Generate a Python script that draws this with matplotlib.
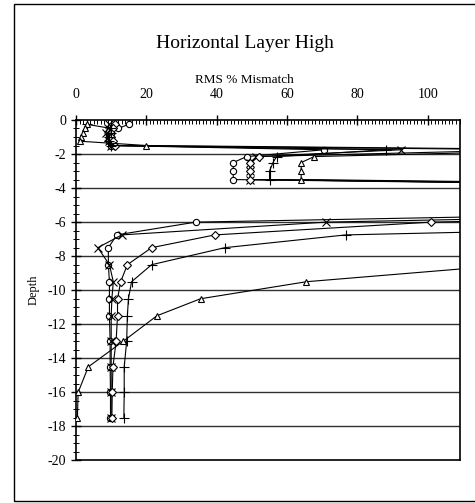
import matplotlib
matplotlib.use("Agg")
import matplotlib.pyplot as plt
from matplotlib.patches import Rectangle
from matplotlib.ticker import MultipleLocator

plt.rcParams['font.family'] = ['Liberation Serif', 'DejaVu Serif']
plt.rcParams['axes.unicode_minus'] = False

# depth levels shared by every series
depth = [-0.25, -0.5, -0.75, -1.0, -1.25, -1.5, -1.75, -2.15, -2.5, -3.0, -3.5, -4.5,
         -6.0, -6.75, -7.5, -8.5, -9.5, -10.5, -11.5, -13.0, -14.5, -16.0, -17.5]

# RMS % mismatch per series (values > 109 run off the right of the chart)
rms_circle = [15, 12, 10, 9.5, 9.5, 10, 70.5, 48.5, 44.7, 44.7, 44.7, 420,
              34, 11.6, 9.2, 9.2, 9.5, 9.5, 9.5, 9.7, 9.7, 9.8, 9.8]
rms_cross = [9.5, 9, 8.5, 9, 9.5, 10, 92.5, 51.3, 49.5, 49.5, 49.5, 440,
             71, 13, 6.2, 9.5, 10.6, 10.2, 10, 10, 10, 10, 10]
rms_diamond = [11, 10.5, 10, 10, 10.5, 11, 130, 52, 49.5, 49.5, 49.5, 450,
               101, 39.5, 21.5, 14.6, 12.7, 11.8, 11.8, 11.4, 10.5, 10.3, 10.2]
rms_plus = [3, 10, 10, 9.5, 9.5, 10, 88, 57, 56, 55, 55, 460,
            240, 76.7, 42.3, 21.5, 15.8, 14.9, 14.6, 14.4, 13.7, 13.7, 13.6]
rms_triangle = [3, 2.5, 2, 1.5, 1.2, 20, 148, 67.7, 64, 64, 64, 480,
                600, 400, 250, 124, 65.5, 35.4, 23, 13.4, 3.5, 0.6, 0.4]

x_ticks = [0, 20, 40, 60, 80, 100]
y_ticks = [0, -2, -4, -6, -8, -10, -12, -14, -16, -18, -20]

fig = plt.figure(figsize=(4.75, 5.03), dpi=100)
ax = fig.add_axes([0.16, 0.0845, 0.8074, 0.677])

# outer chart border (right edge is cut off in the original)
fig.add_artist(Rectangle((14 / 475, 0.003), 1.2, 0.989, transform=fig.transFigure,
                         fill=False, edgecolor='black', linewidth=1.0))

for yv in y_ticks[1:-1]:
    ax.axhline(yv, color='#303030', linewidth=1.0, zorder=1)

series = [
    (rms_circle, 'o', 4.5),
    (rms_cross, 'x', 6),
    (rms_diamond, 'D', 3.6),
    (rms_plus, '+', 7),
    (rms_triangle, '^', 5),
]
for vals, mk, ms in series:
    ax.plot(vals, depth, color='black', linewidth=0.8, marker=mk, markersize=ms,
            markerfacecolor='white', markeredgecolor='black', markeredgewidth=0.8,
            zorder=3)

ax.set_xlim(0, 109)
ax.set_ylim(-20, 0)

ax.xaxis.tick_top()
ax.set_xticks(x_ticks)
ax.xaxis.set_minor_locator(MultipleLocator(1))
ax.set_yticks(y_ticks)
ax.yaxis.set_minor_locator(MultipleLocator(0.5))

ax.tick_params(axis='x', which='major', direction='inout', length=7, width=1,
               labelsize=10, pad=10)
ax.tick_params(axis='x', which='minor', direction='in', length=3, width=0.7)
ax.tick_params(axis='y', which='major', direction='inout', length=7, width=1,
               labelsize=10)
ax.tick_params(axis='y', which='minor', direction='inout', length=4, width=0.7)

for sp in ax.spines.values():
    sp.set_linewidth(1.2)

ax.set_ylabel('Depth', fontsize=9, labelpad=6)
fig.text(0.5 + 0.015, 1 - 44 / 503, 'Horizontal Layer High', ha='center', va='center',
         fontsize=14)
fig.text(0.5 + 0.015, 1 - 80 / 503, 'RMS % Mismatch', ha='center', va='center',
         fontsize=9.5)

fig.savefig('out.png', dpi=100)
